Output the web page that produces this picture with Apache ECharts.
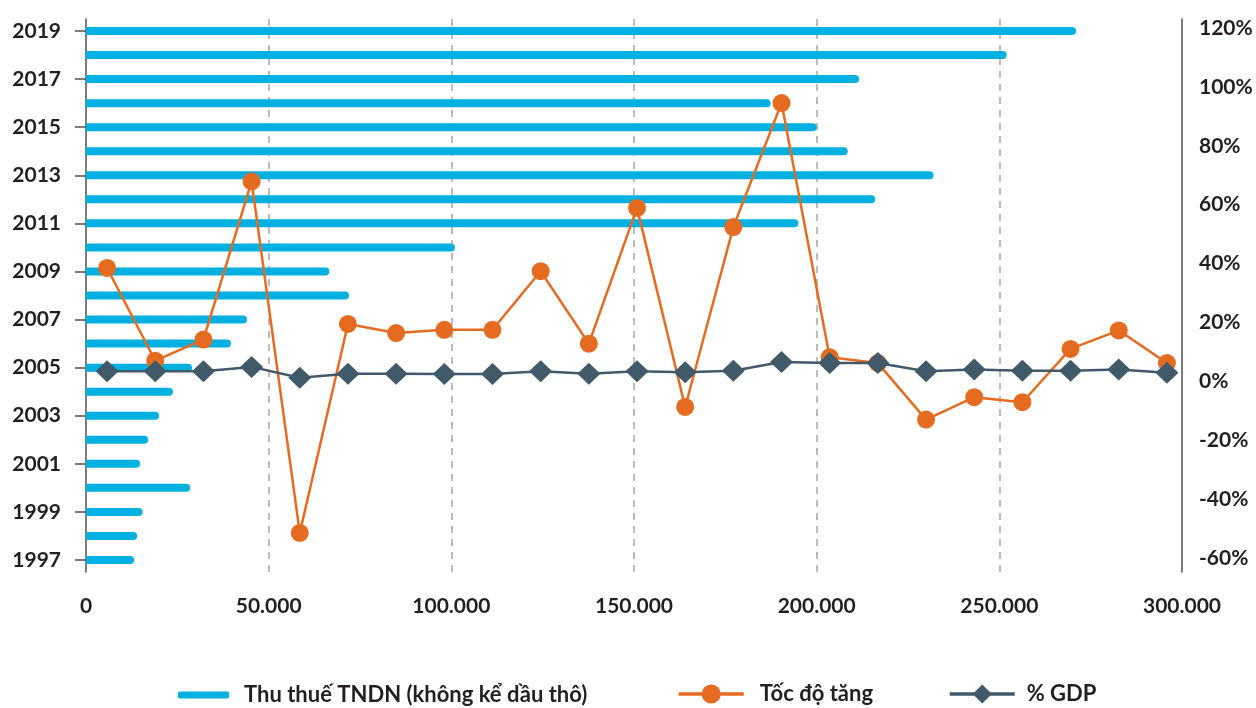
<!DOCTYPE html>
<html>
<head>
<meta charset="utf-8">
<script src="https://cdn.jsdelivr.net/npm/echarts@6/dist/echarts.min.js"></script>
<style>
  html, body { margin: 0; padding: 0; background: #ffffff; }
  #chart { width: 1256px; height: 708px; }
</style>
</head>
<body>
<div id="chart"></div>
<script>
// Years on the category axis (bottom to top)
const years = ['1997','1998','1999','2000','2001','2002','2003','2004','2005','2006','2007','2008',
               '2009','2010','2011','2012','2013','2014','2015','2016','2017','2018','2019'];

// Corporate income tax revenue, excluding crude oil (bars, bottom axis)
const taxRevenue = [13150, 14000, 15500, 28500, 14800, 17000, 20000, 23800, 29000, 39700, 44100, 72000,
                    66600, 101000, 195000, 216000, 232000, 208500, 200000, 187400, 211600, 252000, 271000];

// Growth rate, % (orange line, right axis)
const growthRate = [38.5, 7.0, 14.2, 67.9, -51.5, 19.5, 16.4, 17.5, 17.5, 37.4, 12.8, 58.9,
                    -8.7, 52.4, 94.5, 8.2, 6.2, -13.0, -5.4, -7.1, 11.0, 17.3, 6.2];

// Share of GDP, % (slate line, right axis)
const gdpShare = [3.4, 3.4, 3.4, 4.9, 1.2, 2.6, 2.6, 2.5, 2.5, 3.4, 2.6, 3.4,
                  3.1, 3.6, 6.6, 6.2, 6.2, 3.4, 4.0, 3.6, 3.6, 4.0, 2.9];

const seriesNames = ['Thu thuế TNDN (không kể dầu thô)', 'Tốc độ tăng', '% GDP'];

// Axis ranges and steps
const revenueAxis = { min: 0, max: 300000, step: 50000 };
const percentAxis = { min: -60, max: 120, step: 20 };

const FONT = 'Lato, "Open Sans", sans-serif';
const TEXT = '#231f20';
const AXIS = '#505050';
const BAR = '#00b0e0';
const ORANGE = '#e56b21';
const SLATE = '#405a6a';

function thousands(v) {
  return String(v).replace(/\B(?=(\d{3})+(?!\d))/g, '.');
}

const chart = echarts.init(document.getElementById('chart'), null, { renderer: 'canvas' });

const labelStyle = { color: TEXT, fontFamily: FONT, fontWeight: 'bold', fontSize: 21 };
const legendText = { color: TEXT, fontFamily: FONT, fontWeight: 'bold', fontSize: 22 };

chart.setOption({
  animation: false,
  backgroundColor: '#ffffff',
  grid: [
    { left: 86, top: 19, width: 1096, height: 553 },
    { left: 83, top: 28, width: 1108, height: 530 }
  ],
  xAxis: [
    {
      type: 'value', gridIndex: 0,
      min: revenueAxis.min, max: revenueAxis.max, interval: revenueAxis.step,
      axisLine: { show: false },
      axisTick: { show: false },
      axisLabel: Object.assign({ margin: 24, formatter: thousands }, labelStyle),
      splitLine: {
        show: true, showMinLine: false, showMaxLine: false,
        lineStyle: { color: '#a6a6a6', width: 1.5, type: [7, 6] }
      }
    },
    {
      type: 'category', gridIndex: 1, data: years, boundaryGap: true,
      show: false
    }
  ],
  yAxis: [
    {
      type: 'category', gridIndex: 0, data: years, position: 'left',
      axisLine: { show: true, lineStyle: { color: AXIS, width: 1.5 } },
      axisTick: { show: true, interval: 1, alignWithLabel: true, length: 11, lineStyle: { color: AXIS, width: 1.5 } },
      axisLabel: Object.assign({ interval: 1, margin: 25 }, labelStyle),
      splitLine: { show: false }
    },
    {
      type: 'value', gridIndex: 1, position: 'right',
      min: percentAxis.min, max: percentAxis.max, interval: percentAxis.step,
      axisLine: { show: false },
      axisTick: { show: false },
      axisLabel: Object.assign({ margin: 8, formatter: '{value}%' }, labelStyle),
      splitLine: { show: false }
    },
    {
      // right-hand border line of the plot
      type: 'value', gridIndex: 0, position: 'right',
      axisLine: { show: true, onZero: false, lineStyle: { color: AXIS, width: 1.5 } },
      axisTick: { show: false },
      axisLabel: { show: false },
      splitLine: { show: false }
    }
  ],
  legend: [
    {
      data: [seriesNames[0]], left: 178, top: 684, padding: 0,
      icon: 'roundRect', itemWidth: 51, itemHeight: 7,
      textStyle: Object.assign({ padding: [0, 0, 0, 10] }, legendText)
    },
    {
      data: [seriesNames[1]], left: 677, top: 683, padding: 0,
      itemWidth: 65, itemHeight: 24,
      lineStyle: { width: 3.5 },
      textStyle: Object.assign({ padding: [0, 0, 0, 11] }, legendText)
    },
    {
      data: [seriesNames[2]], left: 948, top: 683, padding: 0,
      itemWidth: 65, itemHeight: 24,
      lineStyle: { width: 3.5 },
      textStyle: Object.assign({ padding: [0, 0, 0, 7] }, legendText)
    }
  ],
  series: [
    {
      name: seriesNames[0], type: 'bar',
      xAxisIndex: 0, yAxisIndex: 0,
      data: taxRevenue,
      barWidth: 8,
      itemStyle: { color: BAR, borderRadius: [0, 4, 4, 0] },
      z: 1
    },
    {
      name: seriesNames[1], type: 'line',
      xAxisIndex: 1, yAxisIndex: 1,
      data: growthRate,
      symbol: 'circle', symbolSize: 18,
      lineStyle: { color: ORANGE, width: 2.5 },
      itemStyle: { color: ORANGE },
      z: 3
    },
    {
      name: seriesNames[2], type: 'line',
      xAxisIndex: 1, yAxisIndex: 1,
      data: gdpShare,
      symbol: 'diamond', symbolSize: [23, 22],
      lineStyle: { color: SLATE, width: 2.5 },
      itemStyle: { color: SLATE },
      z: 4
    }
  ]
});
</script>
</body>
</html>
